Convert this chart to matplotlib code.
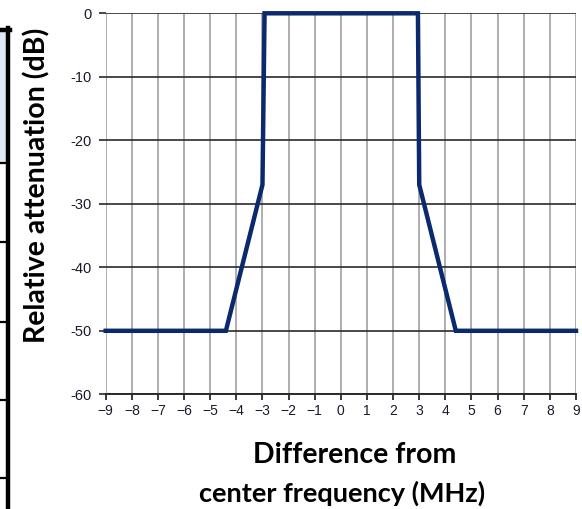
import matplotlib
matplotlib.use("Agg")
import matplotlib.pyplot as plt
from matplotlib.lines import Line2D
from matplotlib.patches import Rectangle

# Data
freq_mhz = [-9, -4.4, -3.0, -2.92, 2.95, 3.0, 4.4, 9]
atten_db = [-50, -50, -27, 0, 0, -27, -50, -50]
x_ticks = list(range(-9, 10))
x_tick_labels = [str(v).replace("-", "\u2212") for v in x_ticks]
y_ticks = [0, -10, -20, -30, -40, -50, -60]
y_tick_labels = [str(v) for v in y_ticks]

W, H = 582, 509
fig = plt.figure(figsize=(W / 100, H / 100), dpi=100)
ax = fig.add_axes([105.7 / W, 1 - 394.3 / H, (576 - 105.7) / W, (394.3 - 13.3) / H])

ax.plot(freq_mhz, atten_db, color="#0b2a6e", lw=3.2, solid_joinstyle="miter", zorder=5, clip_on=False)

ax.set_xlim(-9, 9)
ax.set_ylim(-60, 0)
ax.set_xticks(x_ticks)
ax.set_xticklabels(x_tick_labels)
ax.set_yticks(y_ticks)
ax.set_yticklabels(y_tick_labels)

for xv in x_ticks:
    ax.axvline(xv, color="#a8a8a8", lw=1.3, zorder=1)
for yv in y_ticks:
    ax.axhline(yv, color="#2a2a2a", lw=1.2, zorder=2)

for s in ["left", "right", "top"]:
    ax.spines[s].set_visible(False)
ax.spines["bottom"].set_color("#2a2a2a")
ax.spines["bottom"].set_linewidth(1.4)
ax.spines["bottom"].set_zorder(3)

ax.tick_params(axis="x", direction="out", length=4, width=1.3, color="#2a2a2a", pad=3,
               labelsize=10, labelcolor="#1a1a2a")
ax.tick_params(axis="y", direction="out", length=5, width=1.2, color="#2a2a2a", pad=5,
               labelsize=10.5, labelcolor="#1a1a2a")
for lab in ax.get_xticklabels() + ax.get_yticklabels():
    lab.set_fontfamily("Liberation Sans")

fig.text(37 / W, 1 - 185 / H, "Relative attenuation (dB)", rotation=90, ha="center", va="center",
         fontsize=20.5, fontweight="bold", family="Lato")
fig.text(355 / W, 1 - 455 / H, "Difference from", ha="center", va="center",
         fontsize=20.5, fontweight="bold", family="Lato")
fig.text(342 / W, 1 - 493 / H, "center frequency (MHz)", ha="center", va="center",
         fontsize=19.5, fontweight="bold", family="Lato")

# left-edge table border fragment
fig.patches.append(Rectangle((0, 1 - 162 / H), 6 / W, (162 - 31) / H, transform=fig.transFigure,
                             facecolor="#dfe8f4", edgecolor="none"))
fig.lines.append(Line2D([8 / W, 8 / W], [1 - 28 / H, 0], transform=fig.transFigure, color="black", lw=3.2))
fig.lines.append(Line2D([0, 9.5 / W], [1 - 29.5 / H, 1 - 29.5 / H], transform=fig.transFigure, color="black", lw=3.2))
for yp in [163, 242, 322, 400, 478]:
    fig.lines.append(Line2D([0, 8 / W], [1 - yp / H, 1 - yp / H], transform=fig.transFigure, color="black", lw=1.6))

fig.savefig("out.png", dpi=100)
